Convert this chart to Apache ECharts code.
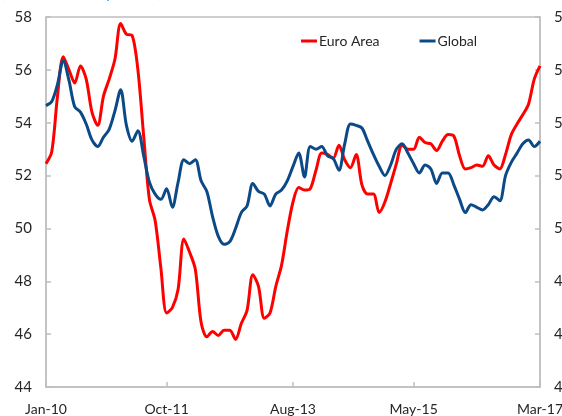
<!DOCTYPE html>
<html>
<head>
<meta charset="utf-8">
<script src="https://cdn.jsdelivr.net/npm/echarts@6/dist/echarts.min.js"></script>
<style>
  html, body { margin: 0; padding: 0; background: #fff; }
  #chart { width: 562px; height: 416px; }
</style>
</head>
<body>
<div id="chart"></div>
<script>
// monthly, Jan-10 .. Mar-17
const monthNames = ['Jan', 'Feb', 'Mar', 'Apr', 'May', 'Jun', 'Jul', 'Aug', 'Sep', 'Oct', 'Nov', 'Dec'];
const months = [];
for (let y = 10; y <= 17; y++) {
    for (let m = 0; m < 12; m++) {
        if (y === 17 && m > 2) break;
        months.push(monthNames[m] + '-' + y);
    }
}
const labelIdx = [0, 21, 43, 64, 86];

const euroArea = [
    52.45, 52.9, 55.0, 56.5, 56.0, 55.5, 56.15, 55.65, 54.4, 53.9,
    55.0, 55.65, 56.4, 57.75, 57.35, 57.3, 56.0, 53.5, 51.1, 50.3,
    48.5, 46.8, 47.0, 47.7, 49.6, 49.1, 48.45, 46.45, 45.9, 46.1,
    45.95, 46.15, 46.15, 45.8, 46.4, 46.9, 48.25, 47.8, 46.6, 46.8,
    47.8, 48.6, 49.9, 51.0, 51.55, 51.45, 51.5, 52.2, 52.85, 52.8,
    52.65, 53.15, 52.6, 52.3, 52.8, 51.65, 51.3, 51.3, 50.6, 51.0,
    51.7, 52.45, 53.15, 53.0, 53.0, 53.45, 53.25, 53.2, 52.95, 53.3,
    53.55, 53.5, 52.75, 52.25, 52.3, 52.4, 52.35, 52.75, 52.4, 52.25,
    52.8, 53.55, 53.95, 54.3, 54.7, 55.65, 56.15
];
const global = [
    54.65, 54.8, 55.45, 56.35, 55.6, 54.6, 54.4, 53.95, 53.35, 53.1,
    53.45, 53.75, 54.45, 55.25, 53.9, 53.3, 53.7, 52.75, 51.75, 51.3,
    51.1, 51.5, 50.8, 51.75, 52.6, 52.45, 52.6, 51.8, 51.4, 50.45,
    49.7, 49.4, 49.5, 50.0, 50.6, 50.85, 51.7, 51.4, 51.3, 50.85,
    51.3, 51.45, 51.8, 52.35, 52.85, 51.95, 53.1, 53.0, 53.1, 52.75,
    52.65, 52.2, 53.2, 53.95, 53.9, 53.8, 53.3, 52.8, 52.35, 52.0,
    52.4, 53.0, 53.2, 52.85, 52.45, 52.1, 52.4, 52.25, 51.7, 52.1,
    52.1, 51.65, 51.1, 50.6, 50.9, 50.8, 50.7, 50.9, 51.2, 51.05,
    52.0, 52.5, 52.85, 53.2, 53.35, 53.1, 53.3
];

const axisGray = '#bfbfbf';
const textColor = '#262626';
const font = 'Lato, "Open Sans", sans-serif';

const chart = echarts.init(document.getElementById('chart'));

const yAxisBase = {
    type: 'value',
    min: 44,
    max: 58,
    interval: 2,
    splitLine: { show: false },
    axisLine: { show: true, lineStyle: { color: axisGray, width: 1.5 } },
    axisTick: { show: true, inside: true, length: 5, lineStyle: { color: axisGray, width: 1.5 } },
    axisLabel: { color: textColor, fontSize: 15, fontFamily: font, margin: 14 }
};

chart.setOption({
    animation: false,
    backgroundColor: '#fff',
    grid: {
        left: 46, right: 22, top: 17, bottom: 29,
        outerBoundsMode: 'none',
        containLabel: false,
        show: true, borderColor: axisGray, borderWidth: 1.5
    },
    graphic: [{
        type: 'text',
        left: 1, top: -14,
        style: { text: '(Index, 50+ = expansion)', fill: '#1f9bd7', font: '15px ' + font }
    }],
    legend: {
        left: 296, top: 29,
        itemWidth: 16, itemHeight: 3, itemGap: 40,
        icon: 'rect',
        textStyle: { color: textColor, fontSize: 14, fontFamily: font, padding: [0, 0, 0, -3] },
        data: ['Euro Area', 'Global']
    },
    xAxis: {
        type: 'category',
        boundaryGap: false,
        data: months,
        axisLine: { lineStyle: { color: axisGray, width: 1.5 } },
        axisTick: {
            inside: true, length: 5,
            interval: (i) => labelIdx.includes(i),
            lineStyle: { color: axisGray, width: 1.5 }
        },
        axisLabel: {
            interval: (i) => labelIdx.includes(i),
            color: textColor, fontSize: 14, fontFamily: font, margin: 15
        }
    },
    yAxis: [
        Object.assign({}, yAxisBase, { position: 'left' }),
        Object.assign({}, yAxisBase, { position: 'right' })
    ],
    series: [
        {
            name: 'Euro Area', type: 'line', data: euroArea,
            smooth: 0.3, showSymbol: false,
            itemStyle: { color: '#ff0000' },
            lineStyle: { color: '#ff0000', width: 3 }
        },
        {
            name: 'Global', type: 'line', data: global,
            smooth: 0.3, showSymbol: false,
            itemStyle: { color: '#0b4a87' },
            lineStyle: { color: '#0b4a87', width: 3 }
        }
    ]
});
</script>
</body>
</html>
